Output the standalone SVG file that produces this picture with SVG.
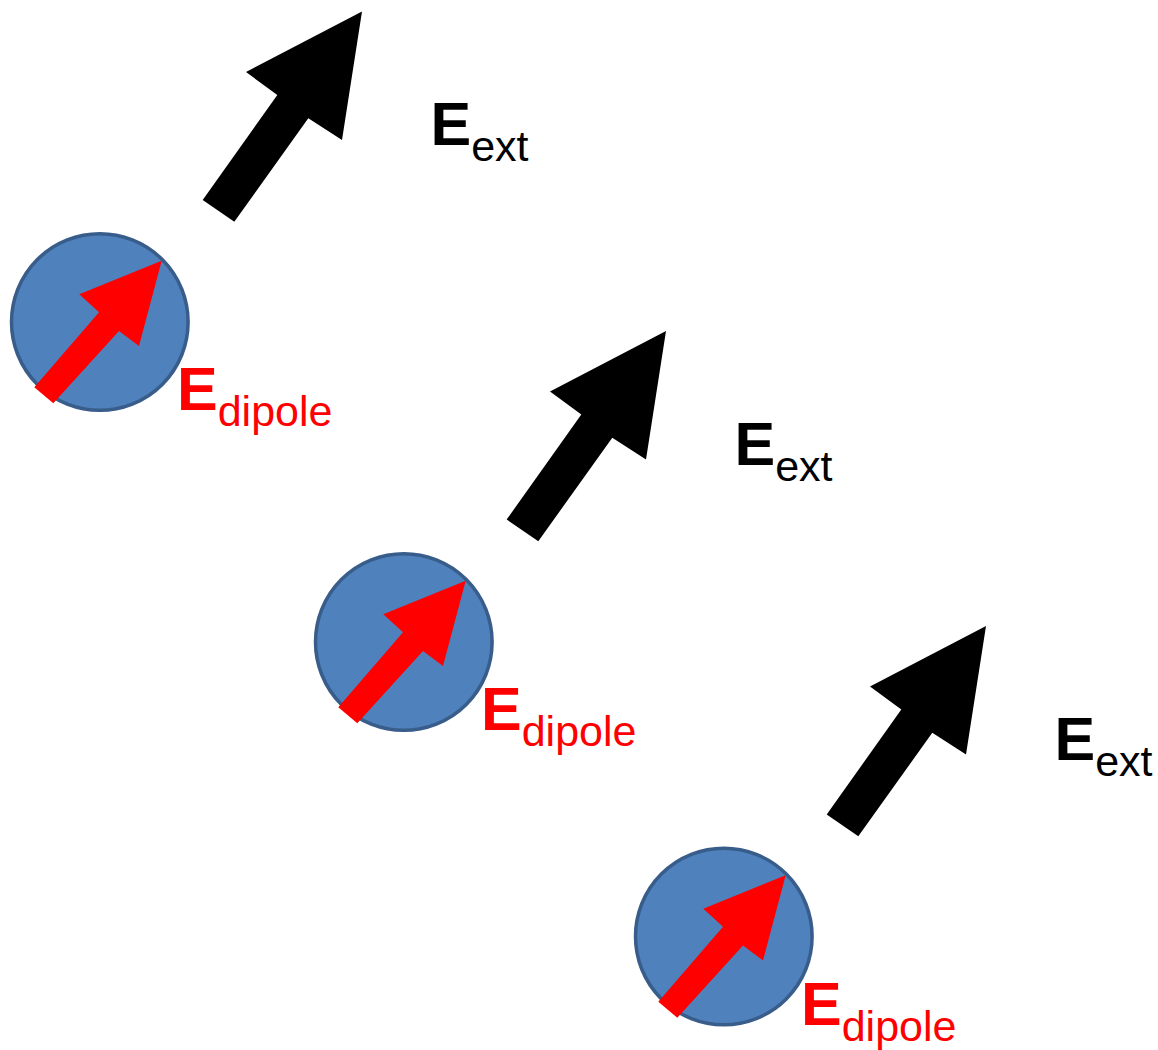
<svg xmlns="http://www.w3.org/2000/svg" xmlns:xlink="http://www.w3.org/1999/xlink" width="1158" height="1050" viewBox="0 0 1158 1050">
<style>
.ball{fill:#4f81bd;stroke:#385d8a;stroke-width:3.5}
.ext{fill:#000}
.dip{fill:#ff0000}
.lbl{font-family:"Liberation Sans",Arial,sans-serif;font-weight:bold;font-size:61px}
.sub{font-weight:normal;font-size:43px}
</style>
<defs>
<polygon id="extArrow" class="ext" points="362,11.5 342,140 308.3,118.3 234.3,221.7 202.7,200 277.3,95 246,72"/>
<polygon id="dipArrow" class="dip" points="161.7,260.7 139,346 119,331 53.3,403.3 34.3,387.3 99,312.3 79.3,294.3"/>
</defs>
<rect width="1158" height="1050" fill="#fff"/>
<g id="connectors">
<use xlink:href="#extArrow"/>
<use xlink:href="#extArrow" transform="translate(304,319.5)"/>
<use xlink:href="#extArrow" transform="translate(624,614.5)"/>
</g>
<g id="dipole1">
<circle class="ball" cx="99.8" cy="322" r="88.3"/>
<use xlink:href="#dipArrow"/>
<text class="lbl" x="177" y="410" fill="#ff0000">E<tspan class="sub" dy="16">dipole</tspan></text>
</g>
<g id="ext1">
<text class="lbl" x="430.5" y="145" fill="#000">E<tspan class="sub" dy="16">ext</tspan></text>
</g>
<g id="dipole2" transform="translate(304,320)">
<circle class="ball" cx="99.8" cy="322" r="88.3"/>
<use xlink:href="#dipArrow"/>
<text class="lbl" x="177" y="410" fill="#ff0000">E<tspan class="sub" dy="16">dipole</tspan></text>
</g>
<g id="ext2" transform="translate(304,320)">
<text class="lbl" x="430.5" y="145" fill="#000">E<tspan class="sub" dy="16">ext</tspan></text>
</g>
<g id="dipole3" transform="translate(624,614.5)">
<circle class="ball" cx="99.8" cy="322" r="88.3"/>
<use xlink:href="#dipArrow"/>
<text class="lbl" x="177" y="410" fill="#ff0000">E<tspan class="sub" dy="16">dipole</tspan></text>
</g>
<g id="ext3" transform="translate(624,614.5)">
<text class="lbl" x="430.5" y="145" fill="#000">E<tspan class="sub" dy="16">ext</tspan></text>
</g>
</svg>
